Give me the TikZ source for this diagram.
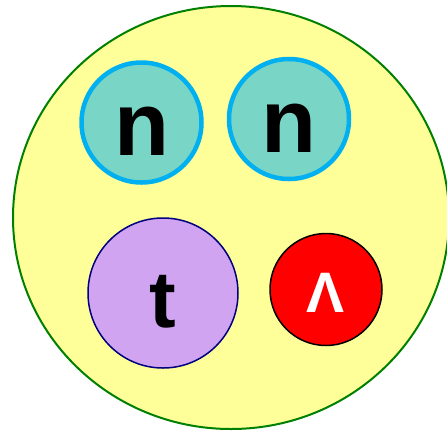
\documentclass[tikz,border=0pt]{standalone}
\usepackage{fontspec}
\setmainfont{Liberation Sans}

\definecolor{nucleusyellow}{HTML}{FFFF99}
\definecolor{nucleusgreen}{HTML}{008000}
\definecolor{neutronteal}{HTML}{79D5C6}
\definecolor{neutronblue}{HTML}{00B0F0}
\definecolor{tritonlilac}{HTML}{D0A4F0}
\definecolor{tritonnavy}{HTML}{000080}

\tikzset{
  neutron/.style={circle, draw=neutronblue, fill=neutronteal, line width=4.5pt,
    minimum size=120pt, inner sep=0pt, text height=66pt, text depth=0pt,
    font=\fontsize{90}{90}\selectfont\bfseries},
  triton/.style={circle, draw=tritonnavy, fill=tritonlilac, line width=1.5pt,
    minimum size=150pt, inner sep=0pt, text height=68pt, text depth=0pt,
    font=\fontsize{80}{80}\selectfont\bfseries},
  lambda/.style={circle, draw=black, fill=red, line width=1.5pt, text=white,
    minimum size=112pt, inner sep=0pt, text height=45pt, text depth=0pt,
    font=\fontsize{57}{57}\selectfont\bfseries}
}

\begin{document}
\begin{tikzpicture}[x=1pt, y=-1pt]

  % canvas
  \useasboundingbox (0,0) rectangle (447,432);

  % parameters
  \def\cx{231}  % nucleus centre
  \def\cy{217.5}

  % nucleus
  \draw[nucleusgreen, fill=nucleusyellow, line width=2pt]
      (\cx,\cy) ellipse [x radius=218, y radius=211.5];

  % two neutrons
  \node[neutron] (neutronA) at (141.5,122.5) {n};
  \node[neutron] (neutronB) at (289,119) {n};

  % triton and lambda
  \node[triton] (triton) at (163,293) {t};
  \node[lambda] (lambda) at (326,289.5) {Λ};

\end{tikzpicture}
\end{document}
